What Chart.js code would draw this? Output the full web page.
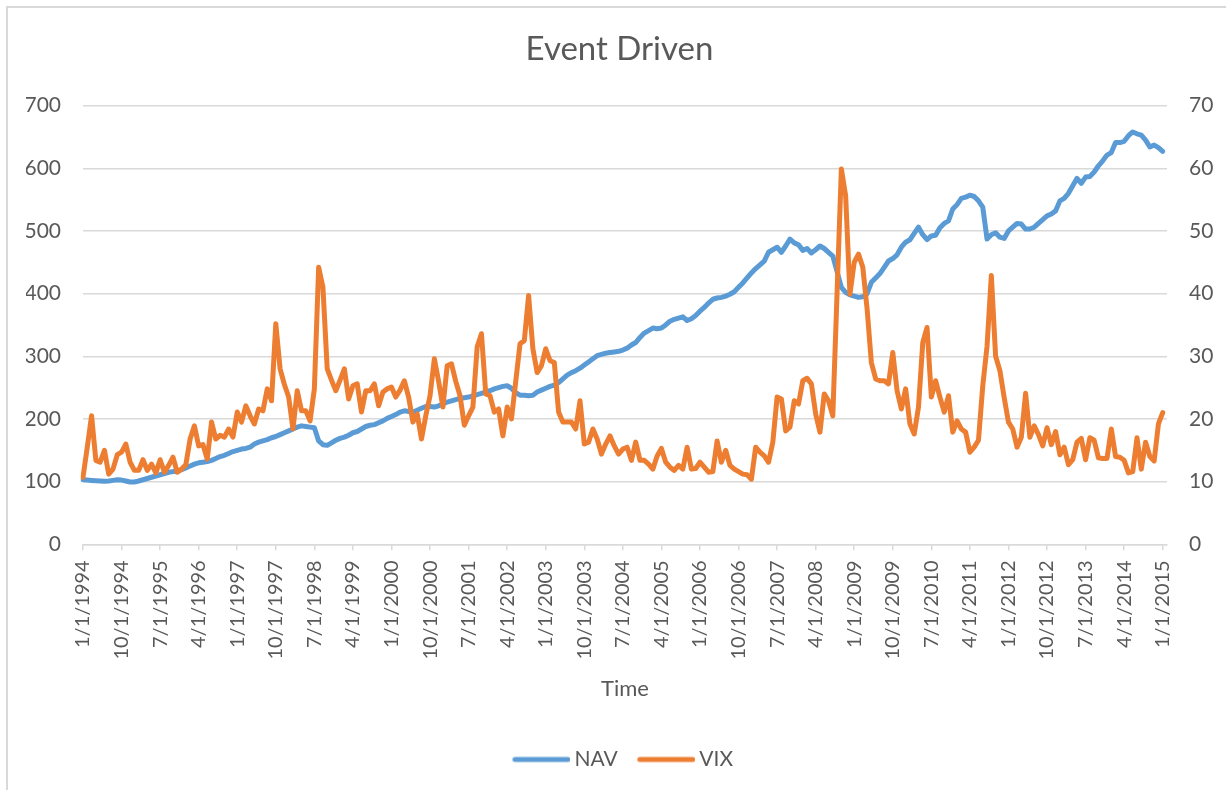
<!DOCTYPE html>
<html>
<head>
<meta charset="utf-8">
<title>Event Driven</title>
<script src="https://cdn.jsdelivr.net/npm/chart.js@4.4.1/dist/chart.umd.min.js"></script>
<style>
  html, body { margin: 0; padding: 0; background: #fff; }
  #wrap { position: relative; width: 1226px; height: 790px; overflow: hidden; }
  #frame { position: absolute; left: 6px; top: 6px; width: 1240px; height: 800px; border: 2px solid #d9d9d9; box-sizing: border-box; }
  #chart { position: absolute; left: 0; top: 0; }
</style>
</head>
<body>
<div id="wrap">
  <div id="frame"></div>
  <canvas id="chart" width="1226" height="790"></canvas>
</div>
<script>
// monthly, 1/1/1994 .. 1/1/2015
const navValues = [
  103, 102.5, 102, 101.5, 101, 100.5, 101, 102, 103, 102.5,
  101, 99.5, 99.5, 101, 103, 105, 107, 109, 111, 113,
  115, 116, 116.5, 119, 122, 125, 128, 130, 131, 132,
  134, 137, 140, 142, 145, 148, 150, 152, 153, 155,
  160, 163, 165, 167, 170, 172, 175, 178, 181, 184,
  187, 189, 188, 187, 186, 165, 159, 158, 162, 166,
  169, 171, 174, 178, 180, 184, 188, 190, 191, 194,
  197, 201, 204, 207, 211, 213, 212, 211, 214, 217,
  220, 220, 219, 221, 224, 227, 229, 231, 233, 234,
  235, 237, 239, 241, 243, 245, 248, 250, 252, 253,
  249, 242, 238, 238, 237, 238, 243, 246, 249, 252,
  254, 258, 264, 270, 274, 277, 281, 286, 291, 296,
  301, 303, 305, 306, 307, 308, 310, 313, 318, 322,
  330, 337, 341, 345, 344, 345, 350, 356, 359, 361,
  363, 357, 360, 365, 372, 378, 385, 391, 393, 394,
  396, 399, 403, 410, 417, 425, 433, 440, 446, 452,
  466, 470, 474, 466, 476, 487, 481, 478, 469, 472,
  465, 470, 476, 472, 466, 460, 435, 410, 402, 398,
  396, 394, 395, 400, 418, 425, 432, 442, 452, 456,
  462, 474, 482, 486, 496, 506, 494, 486, 492, 493,
  505, 512, 516, 535, 542, 552, 554, 557, 555, 548,
  538, 487, 494, 497, 490, 488, 500, 506, 512, 511,
  503, 503, 506, 512, 518, 524, 527, 532, 548, 552,
  560, 572, 584, 576, 586, 587, 594, 604, 612, 621,
  625, 641, 641, 643, 652, 658, 655, 653, 645, 634,
  637, 633, 627
];

const vixValues = [
  10.7, 15.5, 20.5, 13.4, 13.1, 15.0, 11.2, 12.0, 14.3, 14.7,
  16.0, 13.1, 11.8, 11.8, 13.5, 11.8, 12.8, 11.4, 13.5, 11.5,
  12.6, 13.9, 11.5, 12.0, 12.7, 16.8, 18.9, 15.7, 15.9, 13.6,
  19.5, 16.8, 17.4, 17.1, 18.4, 17.1, 21.1, 19.5, 22.1, 20.5,
  19.2, 21.6, 21.3, 24.8, 22.9, 35.2, 28.0, 25.5, 23.5, 18.4,
  24.5, 21.3, 21.3, 19.7, 24.8, 44.2, 41.0, 28.0, 26.2, 24.5,
  26.2, 28.0, 23.2, 25.3, 25.6, 21.1, 24.5, 24.5, 25.6, 22.1,
  24.3, 24.8, 25.1, 23.5, 24.6, 26.1, 23.5, 19.5, 20.8, 16.8,
  20.5, 23.7, 29.6, 26.0, 21.9, 28.5, 28.8, 26.0, 23.7, 19.0,
  20.5, 21.9, 31.5, 33.6, 24.0, 23.7, 21.1, 21.6, 17.3, 21.9,
  20.0, 26.0, 32.0, 32.5, 39.7, 31.2, 27.4, 28.5, 31.2, 29.3,
  29.0, 21.1, 19.5, 19.5, 19.5, 18.4, 22.9, 16.0, 16.3, 18.4,
  16.8, 14.4, 16.0, 17.3, 15.7, 14.4, 15.2, 15.5, 13.4, 16.3,
  13.4, 13.4, 12.8, 12.0, 14.1, 15.3, 13.1, 12.3, 11.8, 12.6,
  12.0, 15.5, 12.0, 12.1, 13.1, 12.3, 11.5, 11.6, 16.5, 13.1,
  15.0, 12.6, 12.0, 11.6, 11.2, 11.1, 10.4, 15.5, 14.7, 14.1,
  13.1, 16.3, 23.5, 23.2, 18.1, 18.7, 22.9, 22.4, 26.1, 26.5,
  25.6, 20.8, 17.9, 24.0, 22.9, 20.5, 40.2, 59.9, 55.6, 39.9,
  45.0, 46.3, 44.2, 37.6, 29.0, 26.4, 26.1, 26.1, 25.6, 30.6,
  24.5, 21.6, 24.8, 19.2, 17.6, 21.9, 32.2, 34.6, 23.5, 26.1,
  23.5, 21.1, 23.7, 17.9, 19.7, 18.4, 17.9, 14.7, 15.5, 16.6,
  25.3, 31.6, 42.9, 30.0, 27.7, 23.4, 19.5, 18.4, 15.5, 17.1,
  24.1, 17.1, 18.9, 17.5, 15.7, 18.6, 15.9, 18.0, 14.3, 15.5,
  12.7, 13.5, 16.3, 16.9, 13.5, 17.0, 16.6, 13.8, 13.7, 13.7,
  18.4, 14.0, 13.9, 13.4, 11.4, 11.6, 17.0, 12.0, 16.3, 14.0,
  13.3, 19.2, 21.0
];

const tickLabels = [
  '1/1/1994', '10/1/1994', '7/1/1995', '4/1/1996', '1/1/1997', '10/1/1997',
  '7/1/1998', '4/1/1999', '1/1/2000', '10/1/2000', '7/1/2001', '4/1/2002',
  '1/1/2003', '10/1/2003', '7/1/2004', '4/1/2005', '1/1/2006', '10/1/2006',
  '7/1/2007', '4/1/2008', '1/1/2009', '10/1/2009', '7/1/2010', '4/1/2011',
  '1/1/2012', '10/1/2012', '7/1/2013', '4/1/2014', '1/1/2015'
];
const tickStep = 9;

// one category per month, plus one more so the axis runs a month past the last point
const months = [];
for (let i = 0; i <= navValues.length; i++) {
  const y = 1994 + Math.floor(i / 12);
  months.push(`${(i % 12) + 1}/1/${y}`);
}

const textColor = '#595959';
const gridColor = '#d9d9d9';
const navColor = '#5b9bd5';
const vixColor = '#ed7d31';
Chart.defaults.font.family = 'Lato';
Chart.defaults.color = textColor;

// legend swatch: short thick line with round ends (Excel style)
function swatch(color) {
  const c = document.createElement('canvas');
  c.width = 60;
  c.height = 10;
  const g = c.getContext('2d');
  g.strokeStyle = color;
  g.lineWidth = 5;
  g.lineCap = 'round';
  g.beginPath();
  g.moveTo(4.5, 5);
  g.lineTo(57.5, 5);
  g.stroke();
  return c;
}

const tickFont = { size: 21 };

new Chart(document.getElementById('chart'), {
  type: 'line',
  data: {
    labels: months,
    datasets: [
      {
        label: 'NAV',
        data: navValues,
        yAxisID: 'y',
        borderColor: navColor,
        backgroundColor: navColor,
        borderWidth: 5,
        borderJoinStyle: 'round',
        borderCapStyle: 'round',
        pointRadius: 0,
        pointStyle: swatch(navColor),
        tension: 0,
        order: 1
      },
      {
        label: 'VIX',
        data: vixValues,
        yAxisID: 'y1',
        borderColor: vixColor,
        backgroundColor: vixColor,
        borderWidth: 5,
        borderJoinStyle: 'round',
        borderCapStyle: 'round',
        pointRadius: 0,
        pointStyle: swatch(vixColor),
        tension: 0,
        order: 0
      }
    ]
  },
  options: {
    responsive: false,
    animation: false,
    devicePixelRatio: 1,
    layout: { autoPadding: false, padding: { left: 26, right: 13, top: 22, bottom: 10 } },
    plugins: {
      title: {
        display: true,
        text: 'Event Driven',
        color: textColor,
        font: { size: 33, weight: 'normal' },
        padding: { top: 8, bottom: 36 }
      },
      legend: {
        position: 'bottom',
        fullSize: false,
        labels: {
          usePointStyle: true,
          pointStyleWidth: 47,
          color: textColor,
          font: { size: 21 },
          padding: 24,
          sort: (a, b) => a.datasetIndex - b.datasetIndex
        }
      },
      tooltip: { enabled: false }
    },
    scales: {
      x: {
        type: 'category',
        offset: false,
        grid: { display: true, drawOnChartArea: false, drawTicks: true, tickLength: 6, color: gridColor, lineWidth: 1.5 },
        border: { display: true, color: gridColor, width: 1.5 },
        ticks: {
          autoSkip: false,
          minRotation: 90,
          maxRotation: 90,
          padding: 10,
          color: textColor,
          font: { size: 20 },
          callback: (v, i) => (i % tickStep === 0 ? tickLabels[i / tickStep] : null)
        },
        title: { display: true, text: 'Time', color: textColor, font: { size: 22 }, padding: { top: 6, bottom: 23 } }
      },
      y: {
        position: 'left',
        min: 0,
        max: 700,
        ticks: { stepSize: 100, padding: 22, color: textColor, font: tickFont },
        grid: { color: gridColor, lineWidth: 1.5, drawTicks: false },
        border: { display: false },
        afterFit: (s) => { s.width = 57; }
      },
      y1: {
        position: 'right',
        min: 0,
        max: 70,
        ticks: { stepSize: 10, padding: 22, color: textColor, font: tickFont },
        grid: { display: false, drawTicks: false },
        border: { display: false },
        afterFit: (s) => { s.width = 46; }
      }
    }
  }
});
</script>
</body>
</html>
